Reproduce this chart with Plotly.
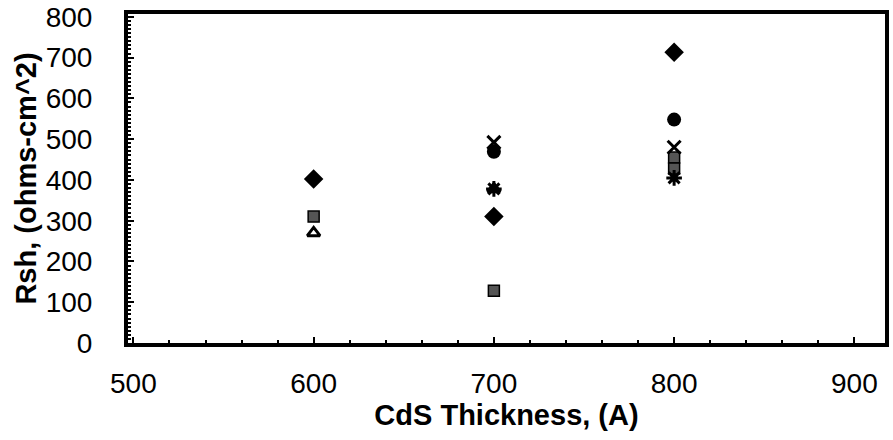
import plotly.graph_objects as go

# Data
diamond_x = [600, 700, 800]
diamond_y = [402, 310, 713]

square_x = [600, 700, 800, 800]
square_y = [310, 128, 455, 428]

triangle_x = [600, 700]
triangle_y = [270, 378]

xmark_x = [700, 800]
xmark_y = [492, 480]

asterisk_x = [700, 800]
asterisk_y = [378, 405]

circle_x = [700, 800]
circle_y = [469, 548]

x_ticks = [500, 600, 700, 800, 900]
y_ticks = [0, 100, 200, 300, 400, 500, 600, 700, 800]

fig = go.Figure()

def add(xs, ys, symbol, size, color="black", lw=0, lc="black"):
    fig.add_trace(go.Scatter(
        x=xs, y=ys, mode="markers", showlegend=False,
        marker=dict(symbol=symbol, size=size, color=color,
                    line=dict(width=lw, color=lc)),
    ))

add(triangle_x, triangle_y, "triangle-up-open", 11, lw=3)
add(square_x, square_y, "square", 11, color="#555555", lw=1.5)
add(xmark_x, xmark_y, "x-thin-open", 13, lw=3)
add(asterisk_x, asterisk_y, "asterisk-open", 13, lw=3)
add(circle_x, circle_y, "circle", 14)
add(diamond_x, diamond_y, "diamond", 15)

font_ticks = dict(family="Liberation Sans, Arial, sans-serif", size=28, color="black")
font_title = dict(family="Liberation Sans, Arial, sans-serif", size=29, color="black")

fig.update_layout(
    width=893, height=440,
    margin=dict(l=128, r=8, t=14, b=97),
    paper_bgcolor="white", plot_bgcolor="white",
    xaxis=dict(
        range=[497, 917], tickvals=x_ticks, ticktext=[str(v) for v in x_ticks],
        showgrid=False, zeroline=False,
        showline=True, mirror=True, linewidth=4, linecolor="black",
        ticks="inside", ticklen=6, tickwidth=1.5, tickcolor="black",
        minor=dict(dtick=20, ticks="inside", ticklen=3, tickcolor="black"),
        tickfont=font_ticks, ticklabelstandoff=12,
        title=dict(text="<b>CdS Thickness, (A)</b>", font=font_title, standoff=8),
        automargin=False,
    ),
    yaxis=dict(
        range=[0, 807], tickvals=y_ticks, ticktext=[str(v) for v in y_ticks],
        showgrid=False, zeroline=False,
        showline=True, mirror=True, linewidth=4, linecolor="black",
        ticks="inside", ticklen=6, tickwidth=1.5, tickcolor="black",
        minor=dict(dtick=10, ticks="inside", ticklen=3, tickcolor="black"),
        tickfont=font_ticks, ticklabelstandoff=26,
        title=dict(text="<b>Rsh, (ohms-cm^2)</b>", font=font_title, standoff=2),
        automargin=False,
    ),
)

fig.write_html("out.html")
